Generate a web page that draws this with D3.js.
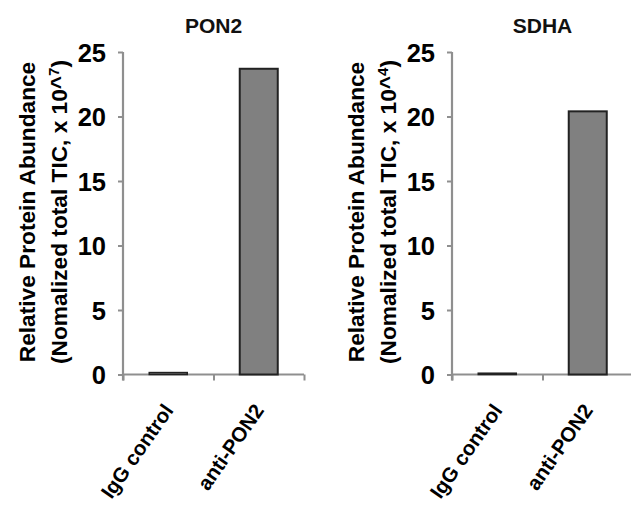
<!DOCTYPE html>
<html>
<head>
<meta charset="utf-8">
<script src="https://cdn.jsdelivr.net/npm/d3@7"></script>
<style>
  html, body { margin: 0; padding: 0; background: #fff; }
  svg { display: block; font-family: "Liberation Sans", Arial, sans-serif; }
</style>
</head>
<body>
<svg id="chart" width="631" height="508"></svg>
<script>
// ---- data ----
const categories = ["IgG control", "anti-PON2"];
const pon2Values = [0.15, 23.7];
const sdhaValues = [0.1, 20.4];
const yTicks = [0, 5, 10, 15, 20, 25];
const panelTitles = ["PON2", "SDHA"];
const yLabelLine1 = "Relative Protein Abundance";
const yLabelPrefix = "(Nomalized total TIC, x 10^";
const yLabelExponents = ["7", "4"];

const svg = d3.select("#chart");
const axisColor = "#8f8f8f";

function drawPanel(offsetX, title, values, exponent) {
  const axisX = 123 + offsetX;
  const y = d3.scaleLinear().domain([0, 25]).range([374.5, 52]);
  const step = 90.5;
  const x = d3.scaleBand().domain(categories)
    .range([axisX, axisX + 2 * step])
    .paddingInner(0.58).paddingOuter(0.29);
  const xl = d3.scaleLinear().domain([0, 2]).range([axisX, axisX + 2 * step]);

  const g = svg.append("g");

  // title
  g.append("text")
    .attr("x", (axisX + axisX + 2 * step) / 2)
    .attr("y", 33)
    .attr("text-anchor", "middle")
    .attr("font-size", 21)
    .attr("font-weight", "bold")
    .attr("fill", "#111")
    .text(title);

  // y axis
  const ya = g.append("g")
    .attr("transform", `translate(${axisX},0)`)
    .call(d3.axisLeft(y).tickValues(yTicks).tickSize(5).tickPadding(12).tickSizeOuter(0));
  ya.select(".domain").attr("stroke", axisColor).attr("stroke-width", 2.2)
    .attr("d", `M0,${y(25)}V${y(0) + 6}`);
  ya.selectAll(".tick line").attr("stroke", axisColor).attr("stroke-width", 2);
  ya.selectAll(".tick text")
    .attr("font-size", 25.5).attr("font-weight", "bold").attr("fill", "#000")
    .attr("font-family", "'Liberation Sans', Arial, sans-serif")
    .attr("dy", "0.36em");

  // x axis (ticks at category boundaries)
  const xa = g.append("g")
    .attr("transform", `translate(0,${y(0)})`)
    .call(d3.axisBottom(xl).tickValues([0, 1, 2]).tickSize(6).tickFormat("").tickSizeOuter(0));
  xa.select(".domain").attr("stroke", axisColor).attr("stroke-width", 2.2)
    .attr("d", `M${axisX},0H${axisX + 2 * step}`);
  xa.selectAll(".tick line").attr("stroke", axisColor).attr("stroke-width", 2);

  // bars
  g.selectAll("rect.bar").data(values).enter().append("rect")
    .attr("class", "bar")
    .attr("x", (d, i) => x(categories[i]))
    .attr("width", x.bandwidth())
    .attr("y", d => y(d))
    .attr("height", d => y(0) - y(d))
    .attr("fill", "#808080")
    .attr("stroke", "#222")
    .attr("stroke-width", (d) => d < 1 ? 1.5 : 2);

  // category labels
  g.selectAll("text.cat").data(categories).enter().append("text")
    .attr("class", "cat")
    .attr("text-anchor", "end")
    .attr("font-size", 20.5)
    .attr("font-weight", "bold")
    .attr("fill", "#000")
    .attr("transform", d => `translate(${x(d) + x.bandwidth() / 2 + 6},${y(0) + 36}) rotate(-55)`)
    .text(d => d);

  // y axis title (two lines)
  const cy = 212;
  g.append("text")
    .attr("transform", `translate(${35 + offsetX},${cy}) rotate(-90)`)
    .attr("text-anchor", "middle")
    .attr("font-size", 22.7)
    .attr("font-weight", "bold")
    .attr("fill", "#000")
    .text(yLabelLine1);
  const t2 = g.append("text")
    .attr("transform", `translate(${67 + offsetX},${cy}) rotate(-90)`)
    .attr("text-anchor", "middle")
    .attr("font-size", 22.7)
    .attr("font-weight", "bold")
    .attr("fill", "#000");
  t2.append("tspan").text(yLabelPrefix);
  t2.append("tspan").attr("font-size", 15).attr("dy", -8).text(exponent);
  t2.append("tspan").attr("dy", 8).text(")");
}

drawPanel(0, panelTitles[0], pon2Values, yLabelExponents[0]);
drawPanel(329, panelTitles[1], sdhaValues, yLabelExponents[1]);
</script>
</body>
</html>
